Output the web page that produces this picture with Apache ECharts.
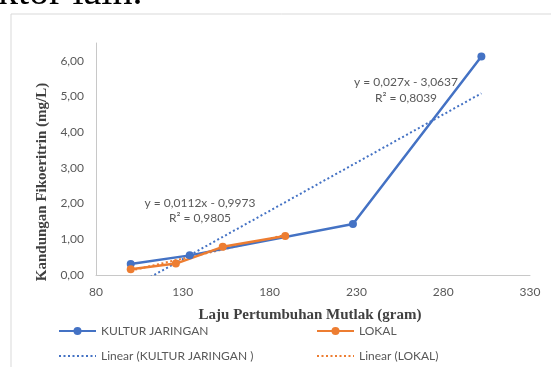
<!DOCTYPE html>
<html>
<head>
<meta charset="utf-8">
<script src="https://cdn.jsdelivr.net/npm/echarts@6/dist/echarts.min.js"></script>
<style>
  html, body { margin: 0; padding: 0; background: #fff; }
  #chart { width: 551px; height: 367px; }
</style>
</head>
<body>
<div id="chart"></div>
<script>
// data
const kulturX = [100, 134, 228, 302]
const kulturY = [0.31, 0.55, 1.43, 6.12]
const lokalX = [100, 126, 153, 189]
const lokalY = [0.16, 0.32, 0.79, 1.09]
// trendline coefficients printed on the chart
const kulturTrend = [0.027, -3.0637]
const lokalTrend = [0.0112, -0.9973]
const xTicks = [80, 130, 180, 230, 280, 330]
const yTicks = [0, 1, 2, 3, 4, 5, 6]

const BLUE = '#4472C4'
const ORANGE = '#ED7D31'
const GREY = '#595959'
const FONT = 'Lato'

function pairs(xs, ys) {
  return xs.map((x, i) => [x, ys[i]])
}
function trend(xs, coef) {
  const lo = Math.min(...xs)
  const hi = Math.max(...xs)
  return [[lo, coef[0] * lo + coef[1]], [hi, coef[0] * hi + coef[1]]]
}
function comma(v) {
  return v.toFixed(2).replace('.', ',')
}

const chart = echarts.init(document.getElementById('chart'))

const legendText = { color: GREY, fontFamily: FONT, fontSize: 12 }

chart.setOption({
  animation: false,
  grid: { left: 96, right: 21, top: 43, bottom: 92 },
  xAxis: {
    type: 'value',
    min: xTicks[0],
    max: xTicks[xTicks.length - 1],
    interval: 50,
    axisLine: { lineStyle: { color: '#c8c8c8', width: 1 } },
    axisTick: { show: false },
    splitLine: { show: false },
    axisLabel: { color: GREY, fontFamily: FONT, fontSize: 12, margin: 11 }
  },
  yAxis: {
    type: 'value',
    min: 0,
    max: 6.5,
    interval: 1,
    axisLine: { show: true, lineStyle: { color: '#c8c8c8', width: 1 } },
    axisTick: { show: false },
    splitLine: { show: false },
    axisLabel: {
      color: GREY, fontFamily: FONT, fontSize: 12, margin: 12,
      formatter: v => (yTicks.includes(v) ? comma(v) : '')
    }
  },
  legend: [
    {
      left: 53, top: 320, orient: 'vertical', itemGap: 13,
      itemWidth: 37, itemHeight: 10,
      textStyle: legendText,
      data: [
        'KULTUR JARINGAN',
        { name: 'Linear (KULTUR JARINGAN )', itemStyle: { opacity: 0 } }
      ]
    },
    {
      left: 311, top: 320, orient: 'vertical', itemGap: 13,
      itemWidth: 37, itemHeight: 10,
      textStyle: legendText,
      data: [
        'LOKAL',
        { name: 'Linear (LOKAL)', itemStyle: { opacity: 0 } }
      ]
    }
  ],
  series: [
    {
      name: 'Linear (KULTUR JARINGAN )',
      type: 'line',
      data: trend(kulturX, kulturTrend),
      showSymbol: false,
      symbol: 'none',
      lineStyle: { color: BLUE, width: 2, type: [2, 2.5] },
      itemStyle: { color: BLUE }
    },
    {
      name: 'Linear (LOKAL)',
      type: 'line',
      data: trend(lokalX, lokalTrend),
      showSymbol: false,
      symbol: 'none',
      lineStyle: { color: ORANGE, width: 2, type: [2, 2.5] },
      itemStyle: { color: ORANGE }
    },
    {
      name: 'KULTUR JARINGAN',
      type: 'line',
      data: pairs(kulturX, kulturY),
      symbol: 'circle',
      symbolSize: 8,
      lineStyle: { color: BLUE, width: 2.5 },
      itemStyle: { color: BLUE }
    },
    {
      name: 'LOKAL',
      type: 'line',
      data: pairs(lokalX, lokalY),
      symbol: 'circle',
      symbolSize: 8,
      lineStyle: { color: ORANGE, width: 2.5 },
      itemStyle: { color: ORANGE }
    }
  ],
  graphic: [
    {
      type: 'rect', silent: true, z: -1,
      shape: { x: 11, y: 14, width: 700, height: 500 },
      style: { fill: null, stroke: '#d9d9d9', lineWidth: 1 }
    },
    {
      type: 'text', left: -2, top: -27,
      style: { text: 'ktor lain.', font: '40px "Liberation Serif"', fill: '#000' }
    },
    {
      type: 'text', x: 42, y: 182, rotation: Math.PI / 2,
      style: {
        text: 'Kandungan Fikoeritrin (mg/L)', font: 'bold 15px "Liberation Serif"',
        fill: '#404040', align: 'center', verticalAlign: 'middle'
      }
    },
    {
      type: 'text', x: 310, y: 315,
      style: {
        text: 'Laju Pertumbuhan Mutlak (gram)', font: 'bold 15px "Liberation Serif"',
        fill: '#404040', align: 'center', verticalAlign: 'middle'
      }
    },
    {
      type: 'text', x: 200, y: 203,
      style: { text: 'y = 0,0112x - 0,9973', font: '12px Lato', fill: GREY, align: 'center', verticalAlign: 'middle' }
    },
    {
      type: 'text', x: 200, y: 218,
      style: { text: 'R² = 0,9805', font: '12px Lato', fill: GREY, align: 'center', verticalAlign: 'middle' }
    },
    {
      type: 'text', x: 406, y: 82,
      style: { text: 'y = 0,027x - 3,0637', font: '12px Lato', fill: GREY, align: 'center', verticalAlign: 'middle' }
    },
    {
      type: 'text', x: 406, y: 98,
      style: { text: 'R² = 0,8039', font: '12px Lato', fill: GREY, align: 'center', verticalAlign: 'middle' }
    }
  ]
})
</script>
</body>
</html>
